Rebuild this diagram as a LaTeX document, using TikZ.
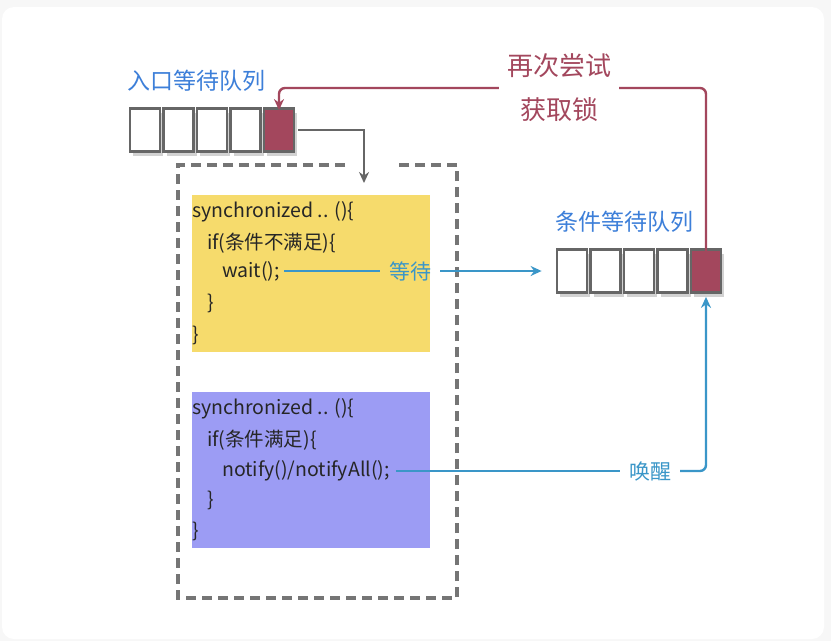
\documentclass[tikz,border=0pt]{standalone}
\usepackage{fontspec}
\setmainfont{Noto Sans CJK SC}
\usetikzlibrary{arrows.meta,shadows}
\definecolor{qblue}{HTML}{3D7FD9}
\definecolor{lblue}{HTML}{3A96C8}
\definecolor{qred}{HTML}{A3475D}
\definecolor{cyel}{HTML}{F6DB6C}
\definecolor{cvio}{HTML}{9C9CF4}
\definecolor{qgray}{HTML}{666666}
\tikzset{
  cell/.style={draw=qgray,line width=2.8pt,fill=white,minimum width=30pt,minimum height=43pt,
    inner sep=0pt,drop shadow={shadow xshift=3pt,shadow yshift=-4pt,opacity=.35}},
  lastcell/.style={cell,fill=qred},
  qlabel/.style={text=qblue,font=\fontsize{23}{27}\selectfont,anchor=west},
  code/.style={text=black!85,font=\fontsize{19.5}{22}\selectfont,anchor=west,inner sep=0pt},
  bluelbl/.style={text=lblue,font=\fontsize{21}{24}\selectfont,inner xsep=9pt},
  blueline/.style={draw=lblue,line width=2.4pt},
  redline/.style={draw=qred,line width=2.4pt},
  dashline/.style={draw=qgray!90,line width=3.2pt,dash pattern=on 10pt off 6pt}
}
\begin{document}
\begin{tikzpicture}[x=1pt,y=-1pt]
\useasboundingbox (0,0) rectangle (831,641);
\fill[black!3] (0,0) rectangle (831,641);
\fill[white,rounded corners=12pt] (2,7) rectangle (824,639);
% entry queue
\node[qlabel] (elbl) at (124,81) {入口等待队列};
\foreach \i in {1,...,4}
  \node[cell] (e\i) at (111.5+33.5*\i,130) {};
\node[lastcell] (e5) at (279,130) {};
% condition queue
\node[qlabel] (clbl) at (552,222) {条件等待队列};
\foreach \i in {1,...,4}
  \node[cell] (c\i) at (538.5+33.5*\i,271) {};
\node[lastcell] (c5) at (706,271) {};
% monitor
\draw[dashline] (345,165) -| (178,598) -| (457,165) -- (395,165);
\coordinate (enter) at (364,183);
\draw[qgray,line width=2.4pt,-{Stealth[length=11pt,width=10pt]}] ([xshift=3pt]e5.east) -| (enter);
\fill[cyel] (192,195) rectangle (430,352);
\fill[cvio] (192,392) rectangle (430,548);
% code in yellow
\node[code] (y1) at (192,212) {synchronized .. ()\{};
\node[code] (y2) at (207,243) {if(条件不满足)\{};
\node[code] (y3) at (222,271) {wait();};
\node[code] (y4) at (207,303) {\}};
\node[code] (y5) at (192,335) {\}};
% code in violet
\node[code] (v1) at (192,409) {synchronized .. ()\{};
\node[code] (v2) at (207,440) {if(条件满足)\{};
\node[code] (v3) at (222,471) {notify()/notifyAll();};
\node[code] (v4) at (207,500) {\}};
\node[code] (v5) at (192,531) {\}};
% wait
\node[bluelbl] (waitlbl) at (410,271) {等待};
\draw[blueline] ([xshift=4pt]y3.east) -- (waitlbl.west);
\draw[blueline,-{Stealth[length=11pt,width=10pt]}] (waitlbl.east) -- ([xshift=-14pt]c1.west);
% notify
\node[bluelbl] (wakelbl) at (650,471) {唤醒};
\draw[blueline] ([xshift=6pt]v3.east) -- (wakelbl.west);
\draw[blueline,-{Stealth[length=11pt,width=10pt]},rounded corners=6pt] (wakelbl.east) -| ([yshift=-3pt]c5.south);
% retry
\node[text=qred,font=\fontsize{26}{31}\selectfont,align=center,fill=white,inner xsep=8pt,
  inner ysep=0pt] (retry) at (559,88) {再次尝试\\[13pt]获取锁};
\draw[redline,rounded corners=6pt] ([yshift=-10pt]c5.north) |- (retry.east);
\draw[redline,-{Stealth[length=11pt,width=10pt]},rounded corners=6pt] (retry.west) -| ([yshift=-3pt]e5.north);
\end{tikzpicture}
\end{document}
